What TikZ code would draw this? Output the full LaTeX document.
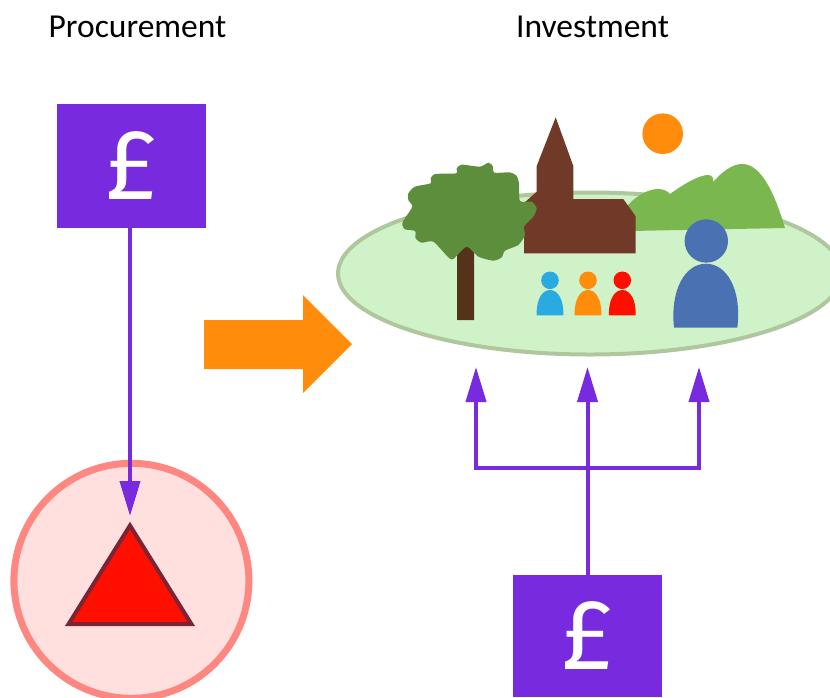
\documentclass[tikz,border=0pt]{standalone}
\usepackage{fontspec}
\setmainfont{Carlito}
\newfontfamily\poundfont{Fira Sans}
\usetikzlibrary{arrows.meta}
\definecolor{purp}{HTML}{782BDE}
\definecolor{orng}{HTML}{FF8C0B}
\definecolor{redd}{HTML}{FF0F00}
\definecolor{hill}{HTML}{7AB84F}
\definecolor{treeg}{HTML}{5C8E3C}
\definecolor{trunkb}{HTML}{55331B}
\definecolor{church}{HTML}{713927}
\definecolor{bigblue}{HTML}{4A72B2}
\definecolor{smallblue}{HTML}{29ABE2}
\definecolor{lawn}{HTML}{D0F2C8}
\definecolor{lawnedge}{HTML}{AEC79C}
\definecolor{halo}{HTML}{FFE0DE}
\definecolor{haloedge}{HTML}{FF8782}
\definecolor{triedge}{HTML}{7A2436}
\tikzset{
  poundbox/.style={fill=purp,text=white,inner sep=0pt,minimum width=149pt,font=\poundfont\fontsize{100}{100}\selectfont},
  heading/.style={anchor=base,font=\fontsize{33.5}{33.5}\selectfont,text=black,inner sep=0pt},
  link/.style={draw=purp,line width=4pt},
  linkarrow/.style={link,-{Triangle[length=35pt,width=20pt]}}
}
\begin{document}
\begin{tikzpicture}[x=1pt,y=-1pt]
\useasboundingbox (0,0) rectangle (830,697);
\clip (0,0) rectangle (830,697);
\node[heading] (proc) at (137.5,37) {Procurement};
\node[heading] (inv) at (592.5,37) {Investment};
% lawn
\path[fill=lawn,draw=lawnedge,line width=4pt] (590,273.5) ellipse [x radius=252,y radius=81];
% hills
\fill[hill] (628,205) .. controls (638,194) and (650,189) .. (658,189) .. controls (664,189) and (667,191) .. (670,194)
  .. controls (685,183) and (700,175) .. (708,175) .. controls (712,175) and (714,178) .. (713,182)
  .. controls (722,172) and (732,164) .. (742,164) .. controls (762,164) and (775,195) .. (785,228) -- (630,231) -- cycle;
% church
\fill[church] (555.7,117.3) -- (573.3,166) -- (573.3,199) -- (623.3,199) -- (635.7,216.3) -- (635.7,253.3) -- (524,253.3) -- (524,203) -- (536.7,191.7) -- (536.7,166) -- cycle;
% trunk
\fill[trunkb] (457,320) -- (457,250) -- (466.7,246) -- (474,250) -- (474,320) -- cycle;
% canopy
\begin{scope}[shift={(400,150)},x=0.3333pt,y=-0.3333pt]
\fill[treeg] plot[smooth cycle,tension=0.4] coordinates {(7,225) (10,212) (37,170) (25,150) (25,130) (45,110) (92,100) (92,85) (105,72) (168,70) (170,55) (185,44) (240,50) (265,38) (278,48) (283,68) (330,67) (350,78) (357,100) (360,153) (395,155) (410,175) (400,200) (372,230) (375,255) (355,285) (315,302) (305,322) (280,332) (235,320) (200,290) (160,327) (145,322) (100,275) (65,278) (47,265) (45,243) (15,238)};
\end{scope}
% sun
\fill[orng] (662.7,133.7) circle [radius=20.3];
% small people
\foreach \cx/\col in {550/smallblue,588/orng,622.3/redd}{
  \fill[\col] (\cx,280.3) circle [radius=8.8];
  \fill[\col] (\cx-13.3,315.3) .. controls (\cx-14,300) and (\cx-8,290) .. (\cx,290) .. controls (\cx+8,290) and (\cx+14,300) .. (\cx+13.3,315.3) -- cycle;
}
% big person
\fill[bigblue] (706.3,241) circle [radius=21.7];
\fill[bigblue] (674,327.7) .. controls (670,290) and (685,263.7) .. (706,263.7) .. controls (727,263.7) and (742,290) .. (737.3,327.7) -- cycle;
% orange arrow
\fill[orng] (204,320) -- (303,320) -- (303,295) -- (352,344) -- (303,393) -- (303,369) -- (204,369) -- cycle;
% halo
\path[fill=halo,draw=haloedge,line width=7pt] (131.4,580.8) circle [radius=117.5];
\path[fill=redd,draw=triedge,line width=4pt,miter limit=10] (130,525.5) -- (191.4,624) -- (68.6,624) -- cycle;
% boxes
\node[poundbox,minimum height=124pt] (topbox) at (131.5,166) {£};
\node[poundbox,minimum height=122pt] (botbox) at (587.5,636) {£};
% connectors
\coordinate (toptip) at (130,516);
\coordinate (tipl) at (476,367);
\coordinate (tipm) at (587.5,367);
\coordinate (tipr) at (699,367);
\coordinate (fork) at (587.5,468);
\draw[linkarrow] (topbox.south -| toptip) -- (toptip);
\draw[linkarrow] (botbox.north) -- (tipm);
\draw[linkarrow] (fork) -- (fork -| tipl) -- (tipl);
\draw[linkarrow] (fork) -- (fork -| tipr) -- (tipr);
\end{tikzpicture}
\end{document}
